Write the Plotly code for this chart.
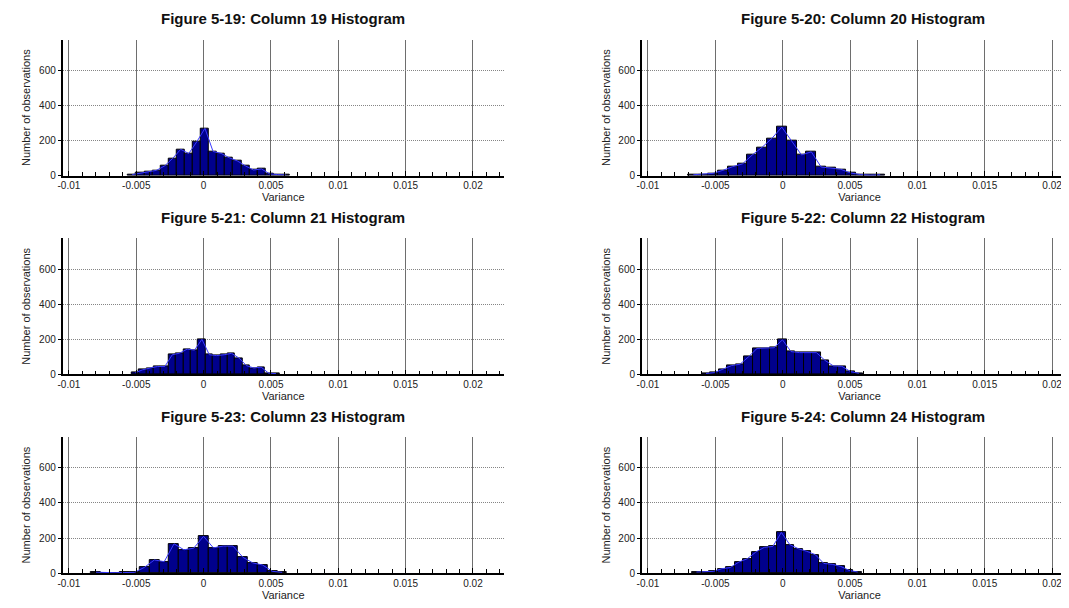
import plotly.graph_objects as go

# ---- data ----
titles = ["Figure 5-19: Column 19 Histogram", "Figure 5-20: Column 20 Histogram",
          "Figure 5-21: Column 21 Histogram", "Figure 5-22: Column 22 Histogram",
          "Figure 5-23: Column 23 Histogram", "Figure 5-24: Column 24 Histogram"]

# first bin left edge and bin width for each panel
bin_start = [-0.0056, -0.0070, -0.00535, -0.0060, -0.0084, -0.006715]
bin_width = [0.0006, 0.00073, 0.00055, 0.00063, 0.00073, 0.00063]

counts_19 = [6, 15, 25, 30, 55, 98, 150, 126, 194, 270, 138, 127, 102, 84, 56, 32, 38, 10, 6, 4]
counts_20 = [5, 8, 13, 30, 51, 67, 118, 162, 213, 277, 200, 118, 136, 49, 43, 36, 15, 6, 3, 5]
counts_21 = [9, 26, 36, 45, 45, 112, 121, 144, 138, 200, 112, 107, 112, 120, 93, 50, 36, 41, 7, 4]
counts_22 = [5, 10, 30, 50, 58, 100, 148, 150, 152, 197, 130, 124, 124, 124, 80, 48, 46, 16, 6]
counts_23 = [5, 2, 2, 3, 4, 33, 75, 65, 167, 133, 142, 210, 144, 154, 154, 90, 58, 46, 10, 4]
counts_24 = [6, 6, 10, 25, 32, 63, 82, 120, 147, 152, 232, 162, 139, 124, 105, 55, 50, 38, 15, 6]
all_counts = [counts_19, counts_20, counts_21, counts_22, counts_23, counts_24]

x_tickvals = [-0.01, -0.005, 0, 0.005, 0.01, 0.015, 0.02]
x_ticktext = ["-0.01", "-0.005", "0", "0.005", "0.01", "0.015", "0.02"]
y_tickvals = [0, 200, 400, 600]
x_title = "Variance"
y_title = "Number of observations"

# ---- layout geometry (pixels) ----
W, H = 1069, 608
FONT = "Liberation Sans, Arial, sans-serif"
px_per_unit = 13533.0
col_left = [50, 632]
col_zero = [191.5, 773.3]
plot_w = 443
row_top = [32, 232.7, 433.4]
row_bot = [169.3, 370.0, 570.7]

fig = go.Figure()
annotations = []

for i in range(6):
    r, c = divmod(i, 2)
    n = i + 1
    xa = "xaxis" if n == 1 else f"xaxis{n}"
    ya = "yaxis" if n == 1 else f"yaxis{n}"
    xref = "x" if n == 1 else f"x{n}"
    yref = "y" if n == 1 else f"y{n}"

    cnt = all_counts[i]
    w = bin_width[i]
    centers = [bin_start[i] + w * (k + 0.5) for k in range(len(cnt))]

    fig.add_trace(go.Bar(x=centers, y=cnt, width=w, xaxis=xref, yaxis=yref,
                         marker=dict(color="#00008c", line=dict(color="#000000", width=1)),
                         showlegend=False, hoverinfo="skip"))
    fig.add_trace(go.Scatter(x=centers, y=cnt, mode="lines", xaxis=xref, yaxis=yref,
                             line=dict(color="#3a3aff", width=1), showlegend=False,
                             hoverinfo="skip"))

    x0 = col_left[c]
    x1 = x0 + plot_w
    xr0 = (x0 - col_zero[c]) / px_per_unit
    xr1 = (x1 - col_zero[c]) / px_per_unit
    d1 = min(x1 / W, 1.0)
    if x1 > W:
        xr1 = (W - col_zero[c]) / px_per_unit

    fig.layout[xa] = dict(
        domain=[x0 / W, d1], range=[xr0, xr1], anchor=yref,
        tickvals=x_tickvals, ticktext=x_ticktext,
        showgrid=True, gridcolor="#6e6e6e", gridwidth=1,
        zeroline=False, showline=True, linecolor="#000000", linewidth=1.5,
        ticks="inside", ticklen=5, tickcolor="#000000",
        minor=dict(dtick=0.001, tick0=0, ticks="inside", ticklen=4,
                   tickcolor="#000000", showgrid=False),
        tickfont=dict(family=FONT, size=10, color="#222222"),
        title=dict(text=x_title, font=dict(family=FONT, size=11, color="#222222"),
                   standoff=2),
        fixedrange=True,
    )
    fig.layout[ya] = dict(
        domain=[1 - row_bot[r] / H, 1 - row_top[r] / H], range=[0, 776], anchor=xref,
        tickvals=y_tickvals, showgrid=True, gridcolor="#858585", gridwidth=1,
        griddash="1px,1px", zeroline=False, showline=True, linecolor="#000000",
        linewidth=2, ticks="outside", ticklen=3, tickcolor="#000000",
        tickfont=dict(family=FONT, size=10, color="#222222"),
        title=dict(text=y_title, font=dict(family=FONT, size=11, color="#222222"),
                   standoff=6),
        fixedrange=True,
    )
    annotations.append(dict(
        text="<b>" + titles[i] + "</b>", xref="paper", yref="paper",
        x=(x0 + 221.5) / W, y=1 - (row_top[r] - 21) / H,
        xanchor="center", yanchor="middle", showarrow=False,
        font=dict(family=FONT, size=15, color="#111111")))

fig.update_layout(
    width=W, height=H, margin=dict(l=0, r=0, t=0, b=0),
    paper_bgcolor="white", plot_bgcolor="white",
    bargap=0, annotations=annotations,
)

fig.write_html("out.html")
